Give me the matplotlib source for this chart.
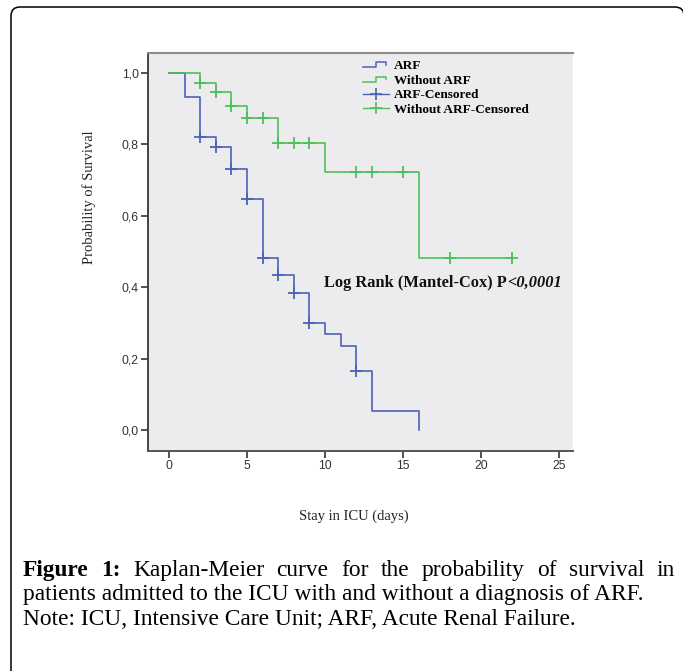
import numpy as np
import matplotlib
matplotlib.use("Agg")
import matplotlib.pyplot as plt
from matplotlib.patches import FancyBboxPatch
from matplotlib.lines import Line2D
from matplotlib.legend_handler import HandlerBase
from matplotlib.transforms import Affine2D

# ---------------- data ----------------
arf_times = [0, 1, 2, 3, 4, 5, 6, 7, 8, 9, 10, 11, 12, 13, 16]
arf_surv = [1.0, 0.934, 0.82, 0.794, 0.731, 0.647, 0.481, 0.434, 0.383,
            0.299, 0.268, 0.235, 0.165, 0.054, 0.0]
arf_censored = [2, 3, 4, 5, 6, 7, 8, 9, 12]

noarf_times = [0, 2, 3, 4, 5, 7, 10, 16, 22]
noarf_surv = [1.0, 0.973, 0.947, 0.908, 0.873, 0.803, 0.722, 0.481, 0.481]
noarf_censored = [2, 3, 4, 5, 6, 7, 8, 9, 12, 13, 15, 18, 22]

legend_labels = ["ARF", "Without ARF", "ARF-Censored", "Without ARF-Censored"]
x_ticks = [0, 5, 10, 15, 20, 25]
y_ticks = [0.0, 0.2, 0.4, 0.6, 0.8, 1.0]
y_ticklabels = ["0,0", "0,2", "0,4", "0,6", "0,8", "1,0"]
x_label = "Stay in ICU (days)"
y_label = "Probability of Survival"
stat_text_a = "Log Rank (Mantel-Cox) P"
stat_text_b = "<0,0001"
caption1 = "Kaplan-Meier curve for the probability of survival in"
caption1_bold = "Figure 1:"
caption2 = "patients admitted to the ICU with and without a diagnosis of ARF."
caption3 = "Note: ICU, Intensive Care Unit; ARF, Acute Renal Failure."

BLUE = "#4b63b6"
GREEN = "#4cbf58"
W, H = 683, 671

fig = plt.figure(figsize=(W / 100, H / 100), dpi=100)
fig.patch.set_facecolor("white")

def px(x, y):
    return x / W, 1 - y / H

# outer rounded frame
pix = Affine2D().scale(1 / W, 1 / H) + fig.transFigure
frame = FancyBboxPatch((11, -40), 673, H - 7 + 40,
                       boxstyle="round,pad=0,rounding_size=9",
                       transform=pix, fill=False, edgecolor="black", lw=1.1)
fig.patches.append(frame)

# axes
l, t, r, b = 148, 53, 573, 451
ax = fig.add_axes([l / W, 1 - b / H, (r - l) / W, (b - t) / H])
ax.set_facecolor("#ececee")
ax.set_xlim(-1.35, 25.9)
ax.set_ylim(-0.059, 1.056)

def surv_at(times, surv, t):
    i = np.searchsorted(times, t, side="right") - 1
    return surv[i]

ax.step(arf_times, arf_surv, where="post", color=BLUE, lw=1.2)
ax.step(noarf_times, noarf_surv, where="post", color=GREEN, lw=1.2)
ax.plot(arf_censored, [surv_at(arf_times, arf_surv, c) for c in arf_censored],
        ls="none", marker="+", ms=8, mew=1.3, color=BLUE)
ax.plot(noarf_censored, [surv_at(noarf_times, noarf_surv, c) for c in noarf_censored],
        ls="none", marker="+", ms=8, mew=1.3, color=GREEN)

ax.set_xticks(x_ticks)
ax.set_xticklabels([str(v) for v in x_ticks])
ax.set_yticks(y_ticks)
ax.set_yticklabels(y_ticklabels)
ax.tick_params(direction="out", length=5, width=1.2, color="#333333",
               labelsize=8.8, labelcolor="#333333", pad=1.5)
for lab in ax.get_xticklabels() + ax.get_yticklabels():
    lab.set_fontfamily("Liberation Sans")
ax.spines["right"].set_visible(False)
ax.spines["left"].set_color("#444444")
ax.spines["left"].set_linewidth(1.4)
ax.spines["bottom"].set_color("#555555")
ax.spines["bottom"].set_linewidth(1.4)
ax.spines["top"].set_color("#8c8c8c")
ax.spines["top"].set_linewidth(1.5)

# axis labels
fig.text(*px(89, 197), y_label, rotation=90, ha="center", va="center",
         family="Liberation Serif", fontsize=10.5, color="#222222")
fig.text(*px(354, 516), x_label, ha="center", va="center",
         family="Liberation Serif", fontsize=10.5, color="#222222")

# legend with step glyphs
class StepHandler(HandlerBase):
    def __init__(self, color):
        super().__init__()
        self.color = color

    def create_artists(self, legend, orig_handle, xdescent, ydescent,
                       width, height, fontsize, trans):
        xs = np.array([0.0, 0.5, 0.5, 0.9, 0.9]) * width - xdescent
        ys = np.array([0.25, 0.25, 0.75, 0.75, 0.5]) * height - ydescent
        return [Line2D(xs, ys, color=self.color, lw=1.1, transform=trans)]

h1 = Line2D([], [], color=BLUE)
h2 = Line2D([], [], color=GREEN)
h3 = Line2D([], [], color=BLUE, marker="+", ms=8, mew=1.2, lw=1.0)
h4 = Line2D([], [], color=GREEN, marker="+", ms=8, mew=1.2, lw=1.0)
leg = ax.legend([h1, h2, h3, h4], legend_labels,
                handler_map={h1: StepHandler(BLUE), h2: StepHandler(GREEN)},
                loc="upper left", bbox_to_anchor=(0.505, 0.982), frameon=False,
                prop={"family": "Liberation Serif", "weight": "bold", "size": 9.5},
                handlelength=2.0, handletextpad=0.4, labelspacing=0.17,
                borderpad=0, borderaxespad=0)

# log rank text
ta = ax.text(9.94, 0.412, stat_text_a, ha="left", va="center",
             family="Liberation Serif", weight="bold", fontsize=11.8, color="#111111")
fig.canvas.draw()
renderer = fig.canvas.get_renderer()
bb = ta.get_window_extent(renderer)
fig.text(bb.x1 / W, (bb.y0 + bb.y1) / 2 / H, stat_text_b, ha="left", va="center",
         family="Liberation Serif", weight="bold", style="italic", fontsize=11.8,
         color="#111111")

# caption
cap_size = 16.8
x0, x1 = 23, 675
words = [(w, "bold") for w in caption1_bold.split()] + [(w, "normal") for w in caption1.split()]
texts = []
for w, wt in words:
    texts.append(fig.text(0, 0, w, family="Liberation Serif", weight=wt,
                          fontsize=cap_size, va="baseline", ha="left"))
fig.canvas.draw()
widths = [tx.get_window_extent(renderer).width for tx in texts]
gap = (x1 - x0 - sum(widths)) / (len(words) - 1)
cx = x0
for tx, wd in zip(texts, widths):
    tx.set_position(px(cx, 576))
    cx += wd + gap
fig.text(*px(x0, 600), caption2, family="Liberation Serif", fontsize=cap_size,
         va="baseline", ha="left")
fig.text(*px(x0, 625), caption3, family="Liberation Serif", fontsize=cap_size,
         va="baseline", ha="left")

fig.savefig("out.png", dpi=100)
